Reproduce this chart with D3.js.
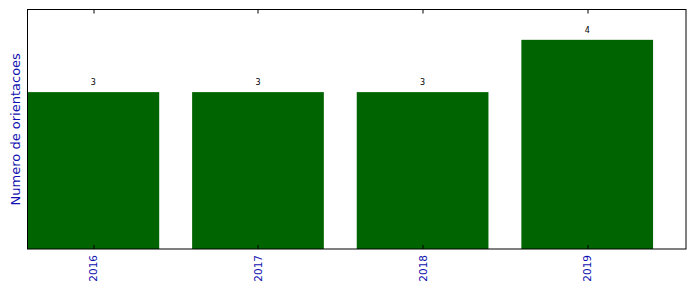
<!DOCTYPE html>
<html>
<head>
<meta charset="utf-8">
<script src="https://cdn.jsdelivr.net/npm/d3@7"></script>
<style>
  body { margin: 0; background: #fff; }
  svg { display: block; font-family: "DejaVu Sans", sans-serif; }
</style>
</head>
<body>
<svg width="696" height="292"></svg>
<script>
// Orientations per year
const years = ["2016", "2017", "2018", "2019"];
const counts = [3, 3, 3, 4];

const svg = d3.select("svg");
const margin = { top: 9.5, right: 10, bottom: 43, left: 27.5 };
const W = 696 - margin.left - margin.right;
const H = 292 - margin.top - margin.bottom;

const g = svg.append("g").attr("transform", `translate(${margin.left},${margin.top})`);

// bar centers at 0..n-1, bars 0.8 wide, axis limits like matplotlib
const x = d3.scaleLinear().domain([-0.4, years.length - 0.4]).range([0, W]);
const y = d3.scaleLinear().domain([0, 4.58]).range([H, 0]);

g.selectAll("rect.bar")
  .data(counts)
  .enter()
  .append("rect")
  .attr("class", "bar")
  .attr("x", (d, i) => x(i - 0.4))
  .attr("width", x(0.8) - x(0))
  .attr("y", (d) => y(d))
  .attr("height", (d) => y(0) - y(d))
  .attr("fill", "#006400");

// value labels
g.selectAll("text.val")
  .data(counts)
  .enter()
  .append("text")
  .attr("class", "val")
  .attr("x", (d, i) => x(i))
  .attr("y", (d) => y(d) - 7)
  .attr("text-anchor", "middle")
  .attr("font-size", 8)
  .attr("fill", "#000")
  .text((d) => d);

// frame
g.append("rect")
  .attr("width", W)
  .attr("height", H)
  .attr("fill", "none")
  .attr("stroke", "#000")
  .attr("stroke-width", 1);

// inward ticks top and bottom
const ticks = years.map((d, i) => i);
g.selectAll("line.tb")
  .data(ticks)
  .enter()
  .append("line")
  .attr("x1", (d) => Math.round(x(d)) + 0.5)
  .attr("x2", (d) => Math.round(x(d)) + 0.5)
  .attr("y1", H)
  .attr("y2", H - 4)
  .attr("stroke", "#000");
g.selectAll("line.tt")
  .data(ticks)
  .enter()
  .append("line")
  .attr("x1", (d) => Math.round(x(d)) + 0.5)
  .attr("x2", (d) => Math.round(x(d)) + 0.5)
  .attr("y1", 0)
  .attr("y2", 4)
  .attr("stroke", "#000");

// rotated year labels
g.selectAll("text.year")
  .data(years)
  .enter()
  .append("text")
  .attr("class", "year")
  .attr("transform", (d, i) => `translate(${x(i) + 4},${H + 6}) rotate(-90)`)
  .attr("text-anchor", "end")
  .attr("font-size", 10.5)
  .attr("fill", "#1010b0")
  .text((d) => d);

// y axis label
svg.append("text")
  .attr("transform", `translate(20,${margin.top + H / 2}) rotate(-90)`)
  .attr("text-anchor", "middle")
  .attr("font-size", 13)
  .attr("fill", "#1010b0")
  .text("Numero de orientacoes");
</script>
</body>
</html>
